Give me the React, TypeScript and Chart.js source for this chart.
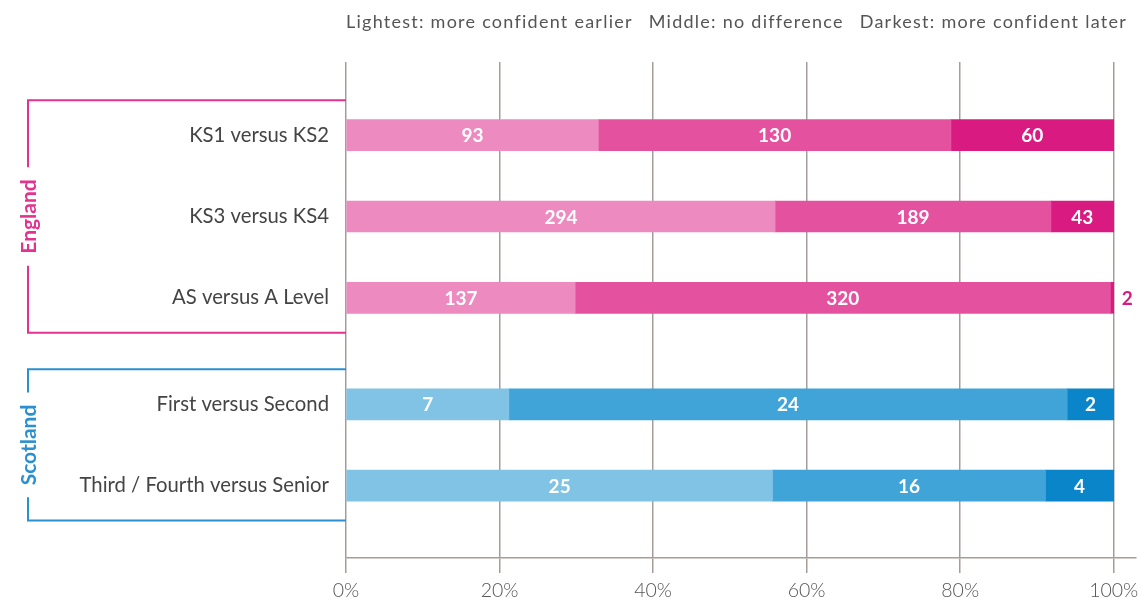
import React, { useEffect, useRef } from "react";
import { Chart, registerables } from "chart.js";

Chart.register(...registerables);

const categories = [
  "KS1 versus KS2",
  "KS3 versus KS4",
  "AS versus A Level",
  "First versus Second",
  "Third / Fourth versus Senior",
];
const groupOf = ["England", "England", "England", "Scotland", "Scotland"];
const groups = ["England", "Scotland"];
const earlier = [93, 294, 137, 7, 25];
const noDifference = [130, 189, 320, 24, 16];
const later = [60, 43, 2, 2, 4];
const xTickValues = [0, 20, 40, 60, 80, 100];
const legendTexts = [
  "Lightest: more confident earlier",
  "Middle: no difference",
  "Darkest: more confident later",
];

const GROUP_GAP = 0.31;
const FONT = "Lato, 'Open Sans', sans-serif";

const palette: Record<string, string[]> = {
  England: ["#ed8bc1", "#e4529f", "#d91b81"],
  Scotland: ["#80c3e5", "#41a4d8", "#0a85c9"],
};
const bracketColor: Record<string, string> = {
  England: "#e3338f",
  Scotland: "#2a90cf",
};

export default function App() {
  const ref = useRef<HTMLCanvasElement | null>(null);

  useEffect(() => {
    document.body.style.margin = "0";
    const canvas = ref.current;
    if (!canvas) return;

    const positions = categories.map((_, i) => i + groups.indexOf(groupOf[i]) * GROUP_GAP);
    const series = [earlier, noDifference, later];
    const totals = categories.map((_, i) => earlier[i] + noDifference[i] + later[i]);

    const datasets = series.map((vals, s) => ({
      label: legendTexts[s],
      data: vals.map((v, i) => ({ x: (v / totals[i]) * 100, y: positions[i] })),
      backgroundColor: categories.map((_, i) => palette[groupOf[i]][s]),
      borderWidth: 0,
      barThickness: 31,
    }));

    const topTextPlugin = {
      id: "topText",
      afterDraw(chart: any) {
        const ctx = chart.ctx;
        ctx.save();
        ctx.font = `400 18px ${FONT}`;
        (ctx as any).letterSpacing = "1.25px";
        ctx.fillStyle = "#555555";
        ctx.textBaseline = "alphabetic";
        ctx.textAlign = "left";
        let x = chart.chartArea.left;
        legendTexts.forEach((t) => {
          ctx.fillText(t, x, 28);
          x += ctx.measureText(t).width + 16;
        });
        ctx.restore();
      },
    };

    const bracketPlugin = {
      id: "brackets",
      afterDraw(chart: any) {
        const ctx = chart.ctx;
        const y = chart.scales.y;
        const left = chart.chartArea.left;
        const bx = 28;
        ctx.save();
        groups.forEach((g) => {
          const idx = categories.map((_, i) => i).filter((i) => groupOf[i] === g);
          const top = y.getPixelForValue(positions[idx[0]] - 0.43);
          const bottom = y.getPixelForValue(positions[idx[idx.length - 1]] + 0.43);
          const mid = (top + bottom) / 2;
          ctx.font = `bold 21px ${FONT}`;
          const tw = ctx.measureText(g).width;
          const gapHalf = tw / 2 + 12;
          ctx.strokeStyle = bracketColor[g];
          ctx.lineWidth = 2;
          ctx.beginPath();
          ctx.moveTo(left, top);
          ctx.lineTo(bx, top);
          ctx.lineTo(bx, mid - gapHalf);
          ctx.moveTo(bx, mid + gapHalf);
          ctx.lineTo(bx, bottom);
          ctx.lineTo(left, bottom);
          ctx.stroke();
          ctx.save();
          ctx.translate(bx, mid);
          ctx.rotate(-Math.PI / 2);
          ctx.fillStyle = bracketColor[g];
          ctx.textAlign = "center";
          ctx.textBaseline = "middle";
          ctx.fillText(g, 0, 1);
          ctx.restore();
        });
        ctx.restore();
      },
    };

    const valueLabelPlugin = {
      id: "valueLabels",
      afterDatasetsDraw(chart: any) {
        const ctx = chart.ctx;
        ctx.save();
        ctx.font = `bold 19px ${FONT}`;
        ctx.textBaseline = "middle";
        chart.data.datasets.forEach((_: any, s: number) => {
          const meta = chart.getDatasetMeta(s);
          meta.data.forEach((el: any, i: number) => {
            const { x, base, y } = el.getProps(["x", "base", "y"], true);
            const txt = String(series[s][i]);
            const tw = ctx.measureText(txt).width;
            const w = Math.abs(x - base);
            if (w > tw + 8) {
              ctx.fillStyle = "#ffffff";
              ctx.textAlign = "center";
              ctx.fillText(txt, (x + base) / 2, y + 1);
            } else {
              ctx.fillStyle = palette[groupOf[i]][2];
              ctx.textAlign = "left";
              ctx.fillText(txt, x + 8, y + 1);
            }
          });
        });
        ctx.restore();
      },
    };

    const chart = new Chart(canvas, {
      type: "bar",
      data: { datasets: datasets as any },
      options: {
        indexAxis: "y",
        animation: false,
        responsive: false,
        layout: { padding: { top: 62, right: 2, left: 0, bottom: 0 } },
        plugins: {
          legend: { display: false },
          tooltip: { enabled: false },
          title: { display: false },
        },
        scales: {
          x: {
            type: "linear",
            stacked: true,
            min: 0,
            max: 102.9,
            afterBuildTicks: (scale: any) => {
              scale.ticks = xTickValues.map((v) => ({ value: v }));
            },
            afterFit: (scale: any) => {
              scale.paddingLeft = 0;
              scale.paddingRight = 0;
              scale.height = 45;
            },
            ticks: {
              callback: (v: any) => `${v}%`,
              color: "#555555",
              padding: 6,
              font: { family: FONT, size: 19.5, weight: 300 as any },
            },
            grid: {
              color: "#a59d99",
              lineWidth: 1.5,
              tickLength: 15,
            },
            border: { color: "#a59d99", width: 1.5 },
          },
          y: {
            type: "linear",
            stacked: true,
            reverse: true,
            offset: false,
            min: -0.9,
            max: 5.2,
            afterBuildTicks: (scale: any) => {
              scale.ticks = positions.map((v) => ({ value: v }));
            },
            afterFit: (scale: any) => {
              scale.width = 346;
            },
            ticks: {
              callback: (v: any) => {
                const i = positions.findIndex((p) => Math.abs(p - v) < 1e-6);
                return i >= 0 ? categories[i] : "";
              },
              color: "#444444",
              padding: 17,
              font: { family: FONT, size: 20.3, weight: 400 as any },
            },
            grid: { display: false, drawTicks: false, offset: false },
            border: { display: false },
          },
        },
      },
      plugins: [topTextPlugin, bracketPlugin, valueLabelPlugin],
    });

    return () => chart.destroy();
  }, []);

  return (
    <div style={{ width: 1138, height: 603 }}>
      <canvas ref={ref} width={1138} height={603} style={{ display: "block" }} />
    </div>
  );
}
